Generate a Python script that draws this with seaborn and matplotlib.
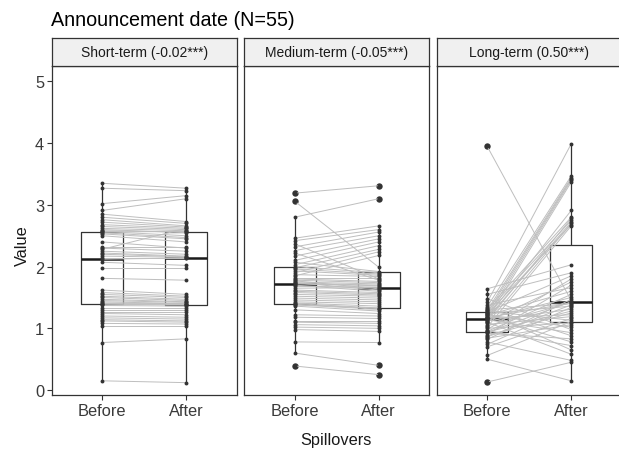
import numpy as np
import pandas as pd
import matplotlib
matplotlib.use("Agg")
import matplotlib.pyplot as plt
import seaborn as sns

title = "Announcement date (N=55)"
panel_labels = ["Short-term (-0.02***)", "Medium-term (-0.05***)", "Long-term (0.50***)"]
times = ["Before", "After"]
x_title = "Spillovers"
y_title = "Value"
y_ticks = [0, 1, 2, 3, 4, 5]

short_before = [3.35, 3.27, 3.02, 2.91, 2.85, 2.80, 2.76, 2.72, 2.68, 2.65, 2.62, 2.60, 2.58, 2.57,
                2.56, 2.55, 2.53, 2.50, 2.40, 2.32, 2.30, 2.28, 2.25, 2.22, 2.20, 2.17, 2.14, 2.12,
                2.07, 1.97, 1.81, 1.62, 1.58, 1.55, 1.52, 1.50, 1.47, 1.45, 1.43, 1.41, 1.40, 1.39,
                1.37, 1.33, 1.30, 1.27, 1.24, 1.20, 1.17, 1.14, 1.12, 1.08, 1.04, 0.77, 0.15]
short_after = [3.27, 3.23, 3.15, 3.10, 2.73, 2.70, 2.66, 2.64, 2.62, 2.60, 2.58, 2.55, 2.56, 2.50,
               2.57, 2.47, 2.45, 2.40, 2.30, 2.32, 2.25, 2.62, 2.20, 2.17, 2.16, 2.15, 2.14, 2.14,
               2.02, 1.97, 1.78, 1.55, 1.52, 1.50, 1.47, 1.45, 1.43, 1.42, 1.40, 1.40, 1.39, 1.38,
               1.36, 1.33, 1.30, 1.27, 1.22, 1.18, 1.15, 1.12, 1.10, 1.07, 1.04, 0.83, 0.12]

medium_before = [3.19, 3.06, 2.80, 2.46, 2.42, 2.37, 2.32, 2.26, 2.22, 2.17, 2.10, 2.07, 2.03, 2.00,
                 1.98, 1.96, 1.93, 1.90, 1.87, 1.85, 1.82, 1.80, 1.78, 1.77, 1.75, 1.74, 1.73, 1.72,
                 1.70, 1.68, 1.65, 1.62, 1.60, 1.58, 1.55, 1.52, 1.49, 1.46, 1.43, 1.41, 1.40, 1.39,
                 1.38, 1.36, 1.30, 1.22, 1.18, 1.12, 1.10, 1.06, 1.02, 0.98, 0.78, 0.60, 0.39]
medium_after = [3.31, 1.99, 3.10, 2.66, 2.60, 1.80, 2.56, 2.50, 1.78, 2.45, 2.40, 1.92, 2.34, 1.90,
                2.28, 1.88, 1.86, 2.24, 1.84, 2.18, 1.82, 1.76, 1.74, 1.64, 1.72, 1.62, 1.70, 1.69,
                1.60, 1.67, 1.66, 1.58, 1.56, 1.54, 1.52, 1.49, 1.46, 1.43, 1.40, 1.36, 1.33, 1.32,
                1.31, 1.28, 1.24, 1.20, 1.16, 1.12, 1.08, 1.04, 1.00, 0.95, 0.77, 0.40, 0.25]

long_before = [3.95, 1.64, 1.55, 1.48, 1.42, 1.38, 1.35, 1.33, 1.31, 1.30, 1.29, 1.28, 1.27, 1.265,
               1.255, 1.25, 1.24, 1.23, 1.22, 1.21, 1.20, 1.19, 1.18, 1.175, 1.17, 1.165, 1.16, 1.15,
               1.14, 1.13, 1.12, 1.11, 1.10, 1.08, 1.06, 1.04, 1.02, 1.00, 0.98, 0.96, 0.95, 0.94,
               0.935, 0.92, 0.90, 0.88, 0.86, 0.84, 0.82, 0.78, 0.74, 0.70, 0.56, 0.50, 0.13]
long_after = [1.45, 2.03, 1.90, 0.98, 3.99, 1.66, 3.47, 0.88, 2.80, 1.40, 3.44, 1.13, 2.75, 1.85,
              0.65, 3.42, 1.36, 2.68, 1.02, 1.60, 3.40, 0.78, 2.91, 1.41, 1.22, 2.72, 1.50, 3.37,
              0.93, 2.78, 1.31, 1.75, 0.58, 2.70, 1.19, 1.42, 2.66, 1.09, 1.80, 0.72, 1.55, 1.28,
              1.43, 0.83, 1.70, 1.25, 1.38, 1.06, 1.47, 0.48, 1.34, 1.16, 1.11, 0.15, 0.45]

series = [(short_before, short_after), (medium_before, medium_after), (long_before, long_after)]

sns.set_theme(style="white")
plt.rcParams["font.family"] = ["Liberation Sans", "DejaVu Sans"]

W, H = 619, 452
fig = plt.figure(figsize=(W / 100, H / 100), dpi=100)
fig.patch.set_facecolor("white")

left0, pw, gap = 51.7, 185.0, 7.5
strip_top, plot_top, plot_bottom = 38.5, 67.0, 396.0
dark = "#333333"

for i, (lab, (b, a)) in enumerate(zip(panel_labels, series)):
    n = len(b)
    df = pd.DataFrame({
        "id": list(range(n)) * 2,
        "time": [times[0]] * n + [times[1]] * n,
        "value": list(b) + list(a),
    })
    df["pos"] = df["time"].map({t: k for k, t in enumerate(times)})

    l = left0 + i * (pw + gap)
    ax = fig.add_axes([l / W, 1 - plot_bottom / H, pw / W, (plot_bottom - plot_top) / H])
    ax.set_facecolor("white")

    sns.boxplot(data=df, x="time", y="value", order=times, ax=ax, width=0.5,
                fill=False, color=dark, linecolor=dark, saturation=1, linewidth=0.9,
                showcaps=False,
                medianprops=dict(color="#1a1a1a", linewidth=1.8),
                flierprops=dict(marker="o", markersize=4.6, markerfacecolor=dark,
                                markeredgecolor=dark, markeredgewidth=0))
    sns.lineplot(data=df, x="pos", y="value", units="id", estimator=None, ax=ax,
                 color="#BEBEBE", linewidth=0.7, legend=False, zorder=3)
    sns.stripplot(data=df, x="time", y="value", order=times, ax=ax, jitter=False,
                  color=dark, size=2.8, linewidth=0, zorder=4)

    ax.set_xlim(-0.6, 1.6)
    ax.set_ylim(-0.08, 5.25)
    ax.set_xlabel("")
    ax.set_ylabel("")
    ax.set_xticks([0, 1])
    ax.set_xticklabels(times)
    ax.set_yticks(y_ticks)
    ax.tick_params(axis="both", length=3.5, width=0.8, color=dark, labelsize=11.8,
                   labelcolor="#3a3a3a", pad=2, bottom=True, left=True)
    if i > 0:
        ax.tick_params(axis="y", left=False, labelleft=False)
    for sp in ax.spines.values():
        sp.set_visible(True)
        sp.set_color(dark)
        sp.set_linewidth(0.9)

    sax = fig.add_axes([l / W, 1 - plot_top / H, pw / W, (plot_top - strip_top) / H])
    sax.set_facecolor("#F0F0F0")
    sax.set_xticks([])
    sax.set_yticks([])
    for sp in sax.spines.values():
        sp.set_visible(True)
        sp.set_color(dark)
        sp.set_linewidth(0.9)
    sax.text(0.5, 0.5, lab, ha="center", va="center", fontsize=10, color="#1a1a1a",
             transform=sax.transAxes)

fig.text(51 / W, 1 - 21 / H, title, ha="left", va="center", fontsize=14.2, color="black")
fig.text(336 / W, 1 - 441 / H, x_title, ha="center", va="center", fontsize=11.8, color="#1a1a1a")
fig.text(22 / W, 1 - 246 / H, y_title, ha="center", va="center", rotation=90, fontsize=11.8,
         color="#1a1a1a")

fig.savefig("out.png", dpi=100, facecolor="white")
